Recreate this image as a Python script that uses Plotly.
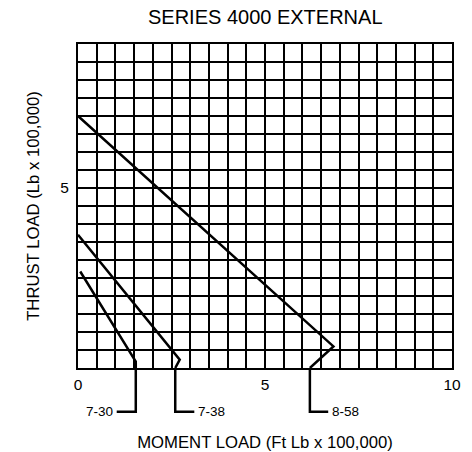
import plotly.graph_objects as go

# Load-capacity curves: moment load (x) vs thrust load (y), both in units of 100,000
curve_names = ["7-30", "7-38", "8-58"]
moment_7_30 = [0.06, 1.545, 1.545]
thrust_7_30 = [2.68, 0.18, 0.0]
moment_7_38 = [0.0, 2.72, 2.6]
thrust_7_38 = [3.7, 0.23, 0.0]
moment_8_58 = [0.0, 6.83, 6.2]
thrust_8_58 = [7.0, 0.6, 0.0]

x_tick_vals = [0, 5, 10]
x_tick_text = ["0", "5", "10"]
y_tick_vals = [5]
y_tick_text = ["5"]

FONT = "Arial, Liberation Sans, Helvetica, sans-serif"
INK = "#000000"

curves = [
    (moment_7_30, thrust_7_30),
    (moment_7_38, thrust_7_38),
    (moment_8_58, thrust_8_58),
]

fig = go.Figure()
for name, (xs, ys) in zip(curve_names, curves):
    fig.add_trace(go.Scatter(
        x=xs, y=ys, mode="lines", name=name,
        line=dict(color=INK, width=2.5),
        showlegend=False, hoverinfo="skip",
    ))

# Leader lines from each curve's foot down to its label below the axis
leader_drop = -0.135          # paper units below the plot floor
leader_len = [-0.51, 0.51, 0.49]  # horizontal run, in moment units
for name, (xs, ys), run in zip(curve_names, curves, leader_len):
    x0 = xs[-1]
    x1 = x0 + run
    fig.add_shape(
        type="path", xref="x", yref="paper",
        path=f"M {x0},0 L {x0},{leader_drop} L {x1},{leader_drop}",
        line=dict(color=INK, width=2.5),
    )
    fig.add_annotation(
        x=x1, y=leader_drop, xref="x", yref="paper",
        text=name, showarrow=False,
        xanchor="right" if run < 0 else "left", yanchor="middle",
        xshift=-2 if run < 0 else 2,
        font=dict(family=FONT, size=13.5, color=INK),
    )

grid = dict(showgrid=True, gridcolor=INK, gridwidth=2)

fig.update_layout(
    width=472, height=452,
    margin=dict(l=78, r=20, t=44, b=84),
    paper_bgcolor="white", plot_bgcolor="white",
    title=dict(
        text="SERIES 4000 EXTERNAL",
        x=0.562, xanchor="center", y=0.962, yanchor="middle",
        font=dict(family=FONT, size=20, color=INK),
    ),
    xaxis=dict(
        range=[0, 10], tickmode="array", automargin=False,
        tickvals=x_tick_vals, ticktext=x_tick_text,
        ticks="outside", ticklen=1, tickcolor="white",
        tickfont=dict(family=FONT, size=15.5, color=INK),
        showline=True, linecolor=INK, linewidth=2, mirror=True,
        zeroline=False,
        minor=dict(dtick=0.5, tick0=0, **grid),
        title=dict(text="MOMENT LOAD (Ft Lb x 100,000)", standoff=55,
                   font=dict(family=FONT, size=16.7, color=INK)),
        **grid,
    ),
    yaxis=dict(
        range=[0, 9], tickmode="array", automargin=False,
        tickvals=y_tick_vals, ticktext=y_tick_text,
        ticks="outside", ticklen=4, tickcolor="white",
        tickfont=dict(family=FONT, size=15.5, color=INK),
        showline=True, linecolor=INK, linewidth=2, mirror=True,
        zeroline=False,
        minor=dict(dtick=0.5, tick0=0, **grid),
        title=dict(text="THRUST LOAD (Lb x 100,000)", standoff=16,
                   font=dict(family=FONT, size=16.7, color=INK)),
        **grid,
    ),
)

fig.write_html("out.html")
